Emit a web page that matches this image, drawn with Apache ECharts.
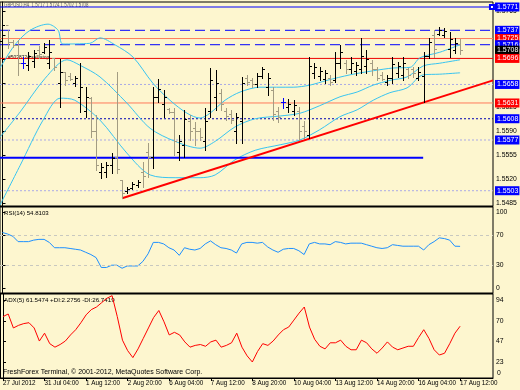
<!DOCTYPE html>
<html><head><meta charset="utf-8">
<script src="https://cdn.jsdelivr.net/npm/echarts@6/dist/echarts.min.js"></script>
<style>html,body{margin:0;padding:0;background:#fdf6cf}#c{width:520px;height:390px}</style>
</head><body><div id="c"></div>
<script>
// ---- data ----
const timeTickIdx = [0,8,16,24,32,40,48,56,64,72,80,88];
const timeTickText = ['27 Jul 2012','31 Jul 04:00','1 Aug 12:00','2 Aug 20:00','6 Aug 04:00','7 Aug 12:00','8 Aug 20:00','10 Aug 04:00','13 Aug 12:00','14 Aug 20:00','16 Aug 04:00','17 Aug 12:00'];
const priceTicks = [1.5485,1.5520,1.5555,1.5590,1.5625,1.5660,1.5695,1.5730,1.5765];
const rsiTicks = [0,30,70,100];
const adxTicks = [23,47,70,94];

const barOpen = [1.5722,1.5745,1.5720,1.5716,1.5690,1.5686,1.5692,1.5708,1.5706,1.5690,
1.5697,1.5660,1.5676,1.5670,1.5660,1.5640,1.5620,1.5638,1.5590,1.5530,
1.5530,1.5540,1.5552,1.5519,1.5502,1.5507,1.5512,1.5530,1.5560,1.5552,
1.5640,1.5630,1.5622,1.5618,1.5560,1.5570,1.5605,1.5595,1.5590,1.5575,
1.5620,1.5640,1.5645,1.5620,1.5615,1.5590,1.5605,1.5668,1.5664,1.5658,
1.5670,1.5655,1.5650,1.5620,1.5632,1.5625,1.5620,1.5620,1.5598,1.5585,
1.5675,1.5670,1.5666,1.5668,1.5665,1.5690,1.5690,1.5680,1.5678,1.5680,
1.5685,1.5690,1.5680,1.5672,1.5662,1.5668,1.5674,1.5672,1.5680,1.5680,
1.5668,1.5670,1.5700,1.5730,1.5732,1.5730,1.5710,1.5708,1.5717];
const barHigh = [1.5757,1.5737,1.5723,1.5723,1.5698,1.5705,1.5708,1.5714,1.5718,1.5723,
1.5697,1.5695,1.5676,1.5675,1.5670,1.5689,1.5654,1.5640,1.5613,1.5543,
1.5545,1.5558,1.5676,1.5519,1.5508,1.5516,1.5519,1.5545,1.5573,1.5654,
1.5666,1.5650,1.5624,1.5624,1.5584,1.5621,1.5613,1.5603,1.5594,1.5624,
1.5682,1.5679,1.5651,1.5624,1.5621,1.5616,1.5669,1.5672,1.5667,1.5675,
1.5683,1.5675,1.5654,1.5625,1.5638,1.5637,1.5635,1.5625,1.5605,1.5698,
1.5689,1.5683,1.5679,1.5672,1.5705,1.5716,1.5694,1.5698,1.5691,1.5726,
1.5708,1.5694,1.5683,1.5676,1.5672,1.5698,1.5691,1.5698,1.5682,1.5683,
1.5683,1.5705,1.5726,1.5737,1.5742,1.5740,1.5735,1.5726,1.5724];
const barLow = [1.5716,1.5711,1.5713,1.5672,1.5682,1.5679,1.5683,1.5697,1.5704,1.5682,
1.5679,1.5625,1.5657,1.5664,1.5656,1.5618,1.5610,1.5581,1.5533,1.5521,
1.5523,1.5529,1.5529,1.5492,1.5500,1.5505,1.5508,1.5508,1.5523,1.5536,
1.5632,1.5610,1.5616,1.5555,1.5548,1.5552,1.5577,1.5570,1.5577,1.5562,
1.5610,1.5621,1.5621,1.5606,1.5602,1.5573,1.5573,1.5657,1.5654,1.5654,
1.5667,1.5643,1.5606,1.5603,1.5624,1.5618,1.5613,1.5577,1.5580,1.5580,
1.5667,1.5664,1.5660,1.5657,1.5662,1.5682,1.5675,1.5675,1.5672,1.5675,
1.5675,1.5672,1.5664,1.5664,1.5657,1.5660,1.5669,1.5664,1.5667,1.5669,
1.5664,1.5632,1.5697,1.5698,1.5730,1.5727,1.5698,1.5704,1.5702];
const barClose = [1.5745,1.5720,1.5716,1.5690,1.5690,1.5700,1.5704,1.5702,1.5712,1.5706,
1.5684,1.5676,1.5664,1.5666,1.5668,1.5655,1.5640,1.5590,1.5540,1.5538,
1.5540,1.5550,1.5535,1.5500,1.5506,1.5513,1.5516,1.5524,1.5552,1.5640,
1.5652,1.5640,1.5618,1.5575,1.5575,1.5608,1.5590,1.5590,1.5582,1.5605,
1.5665,1.5660,1.5630,1.5612,1.5606,1.5610,1.5660,1.5662,1.5658,1.5670,
1.5680,1.5668,1.5615,1.5610,1.5632,1.5630,1.5628,1.5590,1.5590,1.5685,
1.5684,1.5678,1.5674,1.5662,1.5690,1.5705,1.5680,1.5690,1.5686,1.5700,
1.5695,1.5680,1.5668,1.5666,1.5668,1.5688,1.5685,1.5690,1.5672,1.5674,
1.5676,1.5700,1.5720,1.5710,1.5738,1.5736,1.5725,1.5718,1.5708];

// Bollinger bands: [bar index, price]
const bbUpper = [[-0.48,1.5682],[2.4,1.5716],[5.3,1.5737],[8.75,1.5746],[10.7,1.5737],[11.6,1.5717],[16.8,1.5718],[18.75,1.5726],[21.6,1.5716],[25.1,1.5698],[28.9,1.5660],[32.2,1.5635],[35.5,1.5616],[38,1.5609],[39.9,1.5616],[42.8,1.5635],[45.7,1.5647],[49.5,1.5654],[55.9,1.5654],[59.1,1.5657],[62.4,1.5664],[66.8,1.5672],[71.3,1.5678],[75.1,1.5682],[78.4,1.5683],[80.3,1.5697],[84.1,1.5705],[88,1.5716]];
const bbMiddle = [[-0.48,1.5581],[3.4,1.5618],[8.2,1.5667],[12.4,1.5694],[14.9,1.5686],[18.75,1.5669],[23.9,1.5631],[28.4,1.5594],[33.2,1.5575],[38,1.5565],[40.9,1.5575],[44.7,1.5596],[48.6,1.5608],[53.4,1.5612],[57.2,1.5616],[61,1.5627],[64.9,1.5640],[68.2,1.5647],[71.3,1.5657],[74.5,1.5664],[77.8,1.5669],[80.9,1.5685],[84.1,1.5689],[88,1.5694]];
const bbLower = [[-0.48,1.5482],[3.4,1.5540],[7.8,1.5606],[11.1,1.5638],[13.9,1.5635],[18.75,1.5606],[23.9,1.5558],[28.4,1.5526],[33.2,1.5522],[38,1.5522],[40.9,1.5526],[44.7,1.5548],[48.6,1.5562],[53.4,1.5570],[57.2,1.5577],[61,1.5592],[64.9,1.5611],[68.2,1.5621],[71.3,1.5635],[74.5,1.5646],[77.8,1.5653],[80.9,1.5672],[84.1,1.5673],[88,1.5675]];

const levelPrices = [1.5771,1.5737,1.5725,1.5716,1.5708,1.5696,1.5658,1.5631,1.5608,1.5577,1.5503];
const supportLine = [[-0.48,1.5551],[80.9,1.5551]];
const trendLine = [[23,1.5492],[94.33,1.5664]];

const rsiValues = [73,71,68,61,61,61,63,64,64,60,53,53,53,52,51,50,47,44,40,27,27,30,30,26,29,29,29,35,45,60,
60,58,53,50,43,53,51,50,52,58,62,57,53,52,50,46,58,60,60,59,60,54,50,47,51,52,52,49,44,58,
60,58,58,57,61,60,58,59,59,59,57,55,53,52,53,57,56,55,55,55,55,50,57,61,66,65,63,55,54.81];
const adxValues = [75,78,62,65,67,68,62,47,56,44,40,43,47,54,60,68,77,83,86,91,96,99,75,48,36,28,38,50,62,74,
82,69,54,57,54,46,40,42,43,41,46,48,40,42,45,56,40,30,23,35,44,42,47,54,60,63,71,79,86,63,
49,41,38,45,45,48,41,37,37,48,45,38,33,39,46,40,37,39,41,41,51,60,50,37,31,33,44,56,64];

// ---- styling ----
const FONT = 'Liberation Sans';
const XMIN = -0.48, XMAX = 94.33;
const BLUE = '#0000ff', SALMON = '#ff7a5c', RED = '#ee0000', LAV = '#aaaae6', NAVY = '#0000b4', CYAN = '#38c4f0';
const levelStyle = [
  {line:BLUE, type:'solid', box:BLUE, end:true},
  {line:BLUE, type:[10,5], box:BLUE},
  {line:SALMON, type:'solid', box:'#ff0000'},
  {line:BLUE, type:[10,5], box:BLUE},
  {line:'rgba(0,0,0,0)', type:'solid', box:'#000000'},
  {line:RED, type:'solid', box:'#ff0000'},
  {line:LAV, type:[2,2], box:BLUE},
  {line:SALMON, type:'solid', box:'#ff0000'},
  {line:NAVY, type:[2,2], box:BLUE},
  {line:LAV, type:[2,2], box:BLUE},
  {line:LAV, type:[2,2], box:BLUE}
];

const ohlc = barOpen.map((o,i)=>[i,o,barHigh[i],barLow[i],barClose[i]]);

function renderBar(params, api){
  const i=api.value(0), o=api.value(1), h=api.value(2), l=api.value(3), c=api.value(4);
  const pH=api.coord([i,h]), pL=api.coord([i,l]), pO=api.coord([i,o]), pC=api.coord([i,c]);
  const x=Math.round(pH[0])+0.5;
  const col = c>o ? '#000000' : (c<o ? '#a39c82' : '#0000ff');
  const yo=Math.round(pO[1])+0.5, yc=Math.round(pC[1])+0.5;
  return {type:'group', children:[
    {type:'line', shape:{x1:x,y1:Math.round(pH[1]),x2:x,y2:Math.round(pL[1])+1}, style:{stroke:col,lineWidth:1}},
    {type:'line', shape:{x1:x-2.5,y1:yo,x2:x,y2:yo}, style:{stroke:col,lineWidth:1}},
    {type:'line', shape:{x1:x,y1:yc,x2:x+2.5,y2:yc}, style:{stroke:col,lineWidth:1}}
  ]};
}

const levelSeries = levelPrices.map((p,k)=>({
  type:'line', xAxisIndex:0, yAxisIndex:0, z:2, silent:true,
  data: levelStyle[k].end ? [[XMIN,p],{value:[XMAX-0.2,p], symbol:'emptyRect', symbolSize:4}] : [[XMIN,p],[XMAX,p]],
  showSymbol: !!levelStyle[k].end, symbol:'none', showAllSymbol:true,
  itemStyle:{color:levelStyle[k].line === 'rgba(0,0,0,0)' ? '#000' : levelStyle[k].line},
  lineStyle:{color:levelStyle[k].line, type:levelStyle[k].type, width:1},
  endLabel:{show:true, distance: levelStyle[k].end ? 3 : 2, formatter:()=>p.toFixed(4), backgroundColor:levelStyle[k].box, color:'#ffffff',
    padding:[1,1,0,2], fontSize:7, fontFamily:FONT, lineHeight:8}
}));

function xAx(gi, show){
  return {type:'value', gridIndex:gi, min:XMIN, max:XMAX, splitLine:{show:false},
    axisLine:{show:true, onZero:false, lineStyle:{color:'#000', width:1}},
    axisTick:{show:show, customValues:timeTickIdx, length:3, inside:false, lineStyle:{color:'#000'}},
    axisLabel:{show:show, customValues:timeTickIdx, align:'left', margin:2, fontSize:6.3, fontFamily:FONT, color:'#000',
      formatter:v=>{const k=timeTickIdx.indexOf(Math.round(v)); return k>=0?timeTickText[k]:'';}}};
}
function yAx(gi, min, max, ticks, fmt){
  return {type:'value', gridIndex:gi, position:'right', min:min, max:max, splitLine:{show:false},
    axisLine:{show:true, lineStyle:{color:'#000'}},
    axisTick:{show:true, customValues:ticks, length:3, lineStyle:{color:'#000'}},
    axisLabel:{customValues:ticks, margin:3, fontSize:6.8, fontFamily:FONT, color:'#000', formatter:fmt}};
}

const chart = echarts.init(document.getElementById('c'), null, {renderer:'canvas'});
chart.setOption({
  backgroundColor:'#fdf6cf',
  animation:false,
  grid:[
    {left:0, top:2, width:493, height:204, show:true, borderColor:'#000', borderWidth:1},
    {left:0, top:207, width:493, height:86, show:true, borderColor:'#000', borderWidth:1},
    {left:0, top:294, width:493, height:84, show:true, borderColor:'#000', borderWidth:1}
  ],
  xAxis:[xAx(0,false), xAx(1,false), xAx(2,true)],
  yAxis:[
    yAx(0, 1.54807, 1.57783, priceTicks, v=>v.toFixed(4)),
    yAx(1, -6.58, 106.58, rsiTicks, v=>String(v)),
    yAx(2, 4.65, 100.9, adxTicks, v=>String(v))
  ],
  graphic:[
    {type:'text', left:4, top:2, scaleX:0.66, style:{text:'GBPUSD,H4  1.5717 1.5724 1.5702 1.5708', fill:'#55555f', font:'6.6px '+FONT}},
    {type:'text', left:8, top:54, scaleX:0.82, style:{text:'#5038724 sell stop', fill:'#222', font:'6px '+FONT}},
    {type:'text', left:4, top:210, style:{text:'RSI(14) 54.8103', fill:'#000', font:'6.1px '+FONT}},
    {type:'text', left:4, top:297, style:{text:'ADX(5) 61.5474 +DI:2.2756 -DI:26.7419', fill:'#000', font:'6.2px '+FONT}},
    {type:'text', left:3, top:369, style:{text:'FreshForex Terminal, \u00a9 2001-2012, MetaQuotes Software Corp.', fill:'#000', font:'7px '+FONT}},
    {type:'text', left:497, top:370, style:{text:'0', fill:'#000', font:'6.8px '+FONT}}
  ],
  series: levelSeries.concat([
    {type:'line', xAxisIndex:0, yAxisIndex:0, data:bbUpper, smooth:0.3, showSymbol:false, lineStyle:{color:CYAN, width:1}, z:3},
    {type:'line', xAxisIndex:0, yAxisIndex:0, data:bbMiddle, smooth:0.3, showSymbol:false, lineStyle:{color:CYAN, width:1}, z:3},
    {type:'line', xAxisIndex:0, yAxisIndex:0, data:bbLower, smooth:0.3, showSymbol:false, lineStyle:{color:CYAN, width:1}, z:3},
    {type:'line', xAxisIndex:0, yAxisIndex:0, data:supportLine, showSymbol:false, lineStyle:{color:'#0000ff', width:2}, z:4},
    {type:'line', xAxisIndex:0, yAxisIndex:0, data:trendLine, showSymbol:false, lineStyle:{color:'#ff0000', width:2}, z:4},
    {type:'custom', xAxisIndex:0, yAxisIndex:0, data:ohlc, renderItem:renderBar, z:5, clip:true},
    {type:'line', xAxisIndex:1, yAxisIndex:1, data:rsiValues.map((v,i)=>[i,v]), showSymbol:false, lineStyle:{color:'#1e90ff', width:1},
      markLine:{silent:true, symbol:'none', label:{show:false}, lineStyle:{color:'#c8c8c0', type:[3,3], width:1}, data:[{yAxis:70},{yAxis:30}]}},
    {type:'line', xAxisIndex:2, yAxisIndex:2, data:adxValues.map((v,i)=>[i,v]), showSymbol:false, lineStyle:{color:'#ff0000', width:1}}
  ])
});
</script></body></html>
